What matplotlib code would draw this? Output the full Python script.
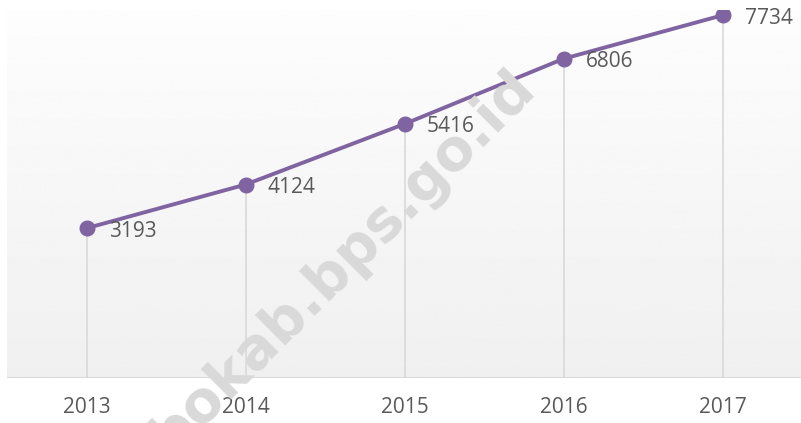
import numpy as np
import matplotlib
matplotlib.use('Agg')
import matplotlib.pyplot as plt

years = ['2013', '2014', '2015', '2016', '2017']
values = [3193, 4124, 5416, 6806, 7734]

PURPLE = '#8064A2'
TEXT = '#595959'
GRID = '#d9d9d9'

plt.rcParams['font.family'] = ['Open Sans', 'DejaVu Sans']

fig = plt.figure(figsize=(8.01, 4.23), dpi=100)
fig.patch.set_facecolor('white')
W, H = 801, 423
ax = fig.add_axes([7 / W, 45 / H, 795 / W, 368 / H])

xs = np.arange(len(years))
ax.set_xlim(-0.5, len(years) - 0.5)
ax.set_ylim(0, 7846)

# vertical gradient background
grad = np.linspace(0.94, 0.992, 256).reshape(-1, 1)
ax.imshow(grad, cmap='gray', vmin=0, vmax=1, aspect='auto',
          extent=[0, 1, 0, 1], transform=ax.transAxes, origin='lower', zorder=0)

# drop lines
ax.vlines(xs, 0, values, colors=GRID, linewidth=1.2, zorder=1)
ax.axhline(0, color=GRID, linewidth=1.5, zorder=1)

# watermark (spills past the plot area, as in the source)
fig.text(343 / W, 1 - 262 / H, 'bokab.bps.go.id', rotation=45,
         fontsize=41, fontweight='bold', color='#d9d9d9', ha='center', va='center',
         family='DejaVu Sans', zorder=2, rotation_mode='anchor')

ax.plot(xs, values, color=PURPLE, linewidth=2.8, marker='o', markersize=10.5,
        zorder=3, solid_capstyle='round')

for x, v in zip(xs, values):
    ax.annotate(str(v), (x, v), xytext=(16, -2), textcoords='offset points',
                ha='left', va='center', fontsize=15, color=TEXT, zorder=4)

ax.set_xticks(xs)
ax.set_xticklabels(years, fontsize=15, color=TEXT)
ax.tick_params(axis='x', length=0, pad=14)
ax.set_yticks([])
for s in ax.spines.values():
    s.set_visible(False)

fig.savefig('out.png', dpi=100)
